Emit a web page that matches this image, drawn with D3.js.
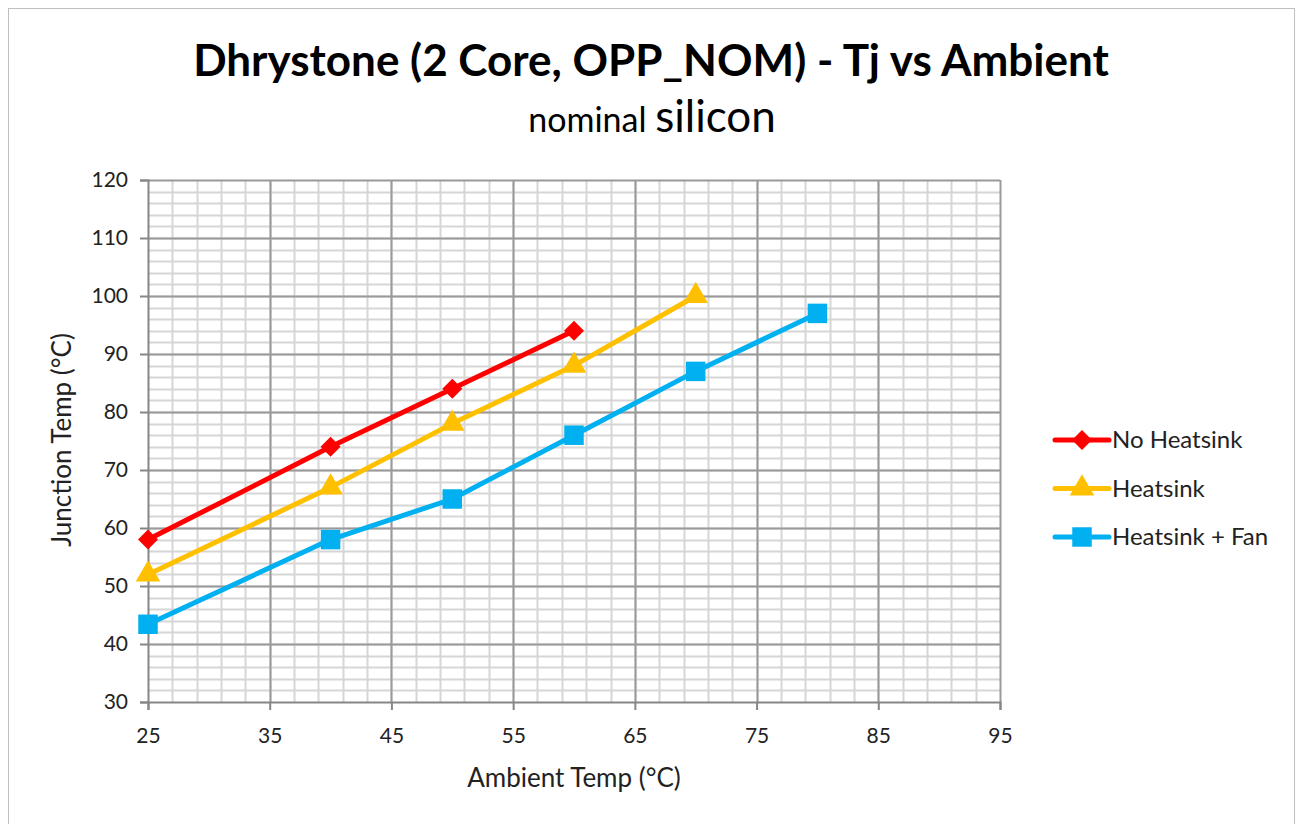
<!DOCTYPE html>
<html>
<head>
<meta charset="utf-8">
<script src="https://cdn.jsdelivr.net/npm/d3@7"></script>
<style>
  body { margin: 0; background: #fff; }
  text { font-family: Lato, "Open Sans", sans-serif; fill: #222; }
</style>
</head>
<body>
<div id="container"></div>
<script>
// data
var xTicks = [25, 35, 45, 55, 65, 75, 85, 95];
var yTicks = [30, 40, 50, 60, 70, 80, 90, 100, 110, 120];
var seriesNames = ["No Heatsink", "Heatsink", "Heatsink + Fan"];
var noHeatsinkX = [25, 40, 50, 60];
var noHeatsinkY = [58, 74, 84, 94];
var heatsinkX = [25, 40, 50, 60, 70];
var heatsinkY = [52, 67, 78, 88, 100];
var fanX = [25, 40, 50, 60, 70, 80];
var fanY = [43.4, 58, 65, 76, 87, 97];

var W = 1298, H = 824;
var margin = { top: 180, right: 298, bottom: 122, left: 148 },
  width = W - margin.left - margin.right,
  height = H - margin.top - margin.bottom;

var root = d3.select("#container").append("svg")
  .attr("width", W).attr("height", H);

// outer chart border
root.append("rect")
  .attr("x", 8.5).attr("y", 8.5)
  .attr("width", 1286).attr("height", 830)
  .attr("fill", "none").attr("stroke", "#bfbfbf").attr("stroke-width", 1);

// titles
root.append("text")
  .attr("x", 651).attr("y", 76)
  .attr("text-anchor", "middle")
  .style("font-size", "44px").style("font-weight", "bold").style("fill", "#000")
  .text("Dhrystone (2 Core, OPP_NOM) - Tj vs Ambient");

var sub = root.append("text")
  .attr("x", 652).attr("y", 132)
  .attr("text-anchor", "middle").style("fill", "#000");
sub.append("tspan").style("font-size", "34px").text("nominal ");
sub.append("tspan").style("font-size", "44px").text("silicon");

var svg = root.append("g")
  .attr("transform", "translate(" + margin.left + "," + margin.top + ")");

var x = d3.scaleLinear().domain([25, 95]).range([0, width]);
var y = d3.scaleLinear().domain([30, 120]).range([height, 0]);

// minor grid every 2
svg.append("g").selectAll("line").data(d3.range(27, 95, 2))
  .enter().append("line")
  .attr("x1", d => Math.round(x(d)) + 0.5).attr("x2", d => Math.round(x(d)) + 0.5)
  .attr("y1", 0).attr("y2", height)
  .attr("stroke", "#d6d6d6").attr("stroke-width", 2);
svg.append("g").selectAll("line").data(d3.range(32, 120, 2))
  .enter().append("line")
  .attr("y1", d => Math.round(y(d)) + 0.5).attr("y2", d => Math.round(y(d)) + 0.5)
  .attr("x1", 0).attr("x2", width)
  .attr("stroke", "#d6d6d6").attr("stroke-width", 2);

// major grid
svg.append("g").selectAll("line").data(xTicks.slice(1))
  .enter().append("line")
  .attr("x1", d => Math.round(x(d)) + 0.5).attr("x2", d => Math.round(x(d)) + 0.5)
  .attr("y1", 0).attr("y2", height)
  .attr("stroke", "#9a9a9a").attr("stroke-width", 2);
svg.append("g").selectAll("line").data(yTicks.slice(1))
  .enter().append("line")
  .attr("y1", d => Math.round(y(d)) + 0.5).attr("y2", d => Math.round(y(d)) + 0.5)
  .attr("x1", 0).attr("x2", width)
  .attr("stroke", "#9a9a9a").attr("stroke-width", 2);

// axes
var xAxis = svg.append("g")
  .attr("transform", "translate(0," + height + ")")
  .call(d3.axisBottom(x).tickValues(xTicks).tickSize(8).tickPadding(18).tickFormat(d3.format("d")));
var yAxis = svg.append("g")
  .call(d3.axisLeft(y).tickValues(yTicks).tickSize(8).tickPadding(12).tickFormat(d3.format("d")));
[xAxis, yAxis].forEach(function (a) {
  a.select(".domain").attr("stroke", "#868686").attr("stroke-width", 2);
  a.selectAll(".tick line").attr("stroke", "#868686").attr("stroke-width", 2);
  a.selectAll(".tick text").style("font-size", "21px").style("fill", "#222")
    .style("font-family", "Lato, sans-serif");
});

// axis labels
svg.append("text")
  .attr("x", width / 2).attr("y", height + 85)
  .attr("text-anchor", "middle").style("font-size", "26px")
  .text("Ambient Temp (°C)");
svg.append("text")
  .attr("transform", "rotate(-90)")
  .attr("x", -260).attr("y", -77)
  .attr("text-anchor", "middle").style("font-size", "26px")
  .text("Junction Temp (°C)");

var series = [
  { name: seriesNames[0], color: "#ff0000", shape: d3.symbolSquare, rot: 45, size: 200, xs: noHeatsinkX, ys: noHeatsinkY },
  { name: seriesNames[1], color: "#ffc000", shape: d3.symbolTriangle, rot: 0, size: 260, xs: heatsinkX, ys: heatsinkY },
  { name: seriesNames[2], color: "#00b0f0", shape: d3.symbolSquare, rot: 0, size: 380, xs: fanX, ys: fanY }
];

var line = d3.line().x(d => x(d[0])).y(d => y(d[1]));

series.forEach(function (s) {
  var pts = s.xs.map((v, i) => [v, s.ys[i]]);
  svg.append("path")
    .datum(pts)
    .attr("fill", "none")
    .attr("stroke", s.color)
    .attr("stroke-width", 5)
    .attr("stroke-linejoin", "round")
    .attr("d", line);
  svg.selectAll(null).data(pts).enter().append("path")
    .attr("d", d3.symbol().type(s.shape).size(s.size))
    .attr("transform", d => "translate(" + x(d[0]) + "," + y(d[1]) + ") rotate(" + s.rot + ")")
    .attr("fill", s.color);
});

// legend
var legend = root.append("g").attr("transform", "translate(1055,440)");
series.forEach(function (s, i) {
  var g = legend.append("g").attr("transform", "translate(0," + i * 48.5 + ")");
  g.append("line").attr("x1", 0).attr("x2", 54).attr("y1", 0).attr("y2", 0)
    .attr("stroke", s.color).attr("stroke-width", 5).attr("stroke-linecap", "round");
  g.append("path")
    .attr("d", d3.symbol().type(s.shape).size(s.size))
    .attr("transform", "translate(27,0) rotate(" + s.rot + ")")
    .attr("fill", s.color);
  g.append("text").attr("x", 57).attr("y", 8)
    .style("font-size", "24px").text(s.name);
});
</script>
</body>
</html>
